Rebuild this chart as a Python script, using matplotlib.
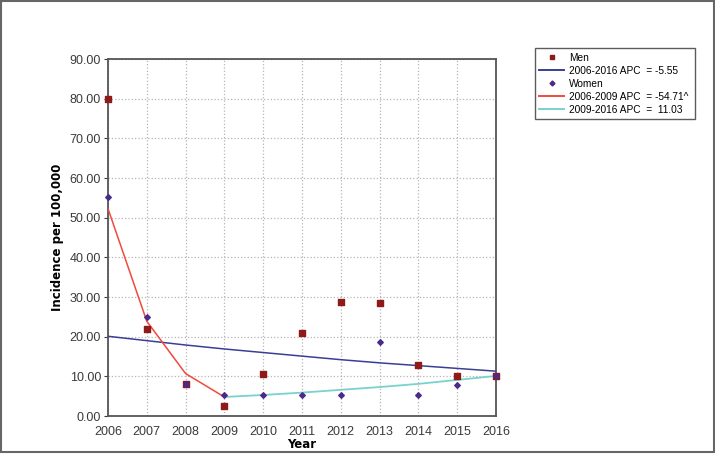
import matplotlib.pyplot as plt
from matplotlib.lines import Line2D
from matplotlib.patches import Rectangle

years = [2006, 2007, 2008, 2009, 2010, 2011, 2012, 2013, 2014, 2015, 2016]
men = [80.0, 21.9, 8.0, 2.5, 10.5, 21.0, 28.7, 28.5, 12.8, 10.2, 10.2]
women = [55.3, 24.9, 8.0, 5.3, 5.3, 5.3, 5.3, 18.6, 5.2, 7.8, 10.2]

# fitted trend lines
trend_all = [20.1, 19.0, 17.9, 16.9, 16.0, 15.1, 14.2, 13.4, 12.7, 12.0, 11.3]
seg1_years = [2006, 2007, 2008, 2009]
seg1 = [52.3, 23.9, 10.7, 4.8]
seg2_years = [2009, 2010, 2011, 2012, 2013, 2014, 2015, 2016]
seg2 = [4.8, 5.3, 5.9, 6.6, 7.3, 8.1, 9.1, 10.1]

y_ticks = [0, 10, 20, 30, 40, 50, 60, 70, 80, 90]

plt.rcParams['font.family'] = ['Liberation Sans', 'DejaVu Sans']

fig = plt.figure(figsize=(7.15, 4.54), dpi=100)
ax = fig.add_axes([0.151, 0.0837, 0.5427, 0.7863])

ax.plot(years, trend_all, color='#3a3f96', lw=1.1, zorder=3)
ax.plot(seg1_years, seg1, color='#f04a3c', lw=1.1, zorder=3)
ax.plot(seg2_years, seg2, color='#79d2cc', lw=1.3, zorder=3)
ax.scatter(years, men, marker='s', s=20, color='#8e1a1a', zorder=4, clip_on=False)
ax.scatter(years, women, marker='D', s=8, color='#4a2a8c', zorder=5, clip_on=False)

ax.set_xlim(2006, 2016)
ax.set_ylim(0, 90)
ax.set_xticks(years)
ax.set_yticks(y_ticks)
ax.set_yticklabels([f"{v:.2f}" for v in y_ticks])
ax.tick_params(labelsize=9, colors='#3a3a3a', length=3, width=0.8, pad=2)
ax.tick_params(axis='x', length=0, pad=7)
ax.grid(True, color='#b5b5b5', linestyle=':', linewidth=0.9)
for s in ax.spines.values():
    s.set_color('#555555')
    s.set_linewidth(1.3)

ax.set_ylabel('Incidence per 100,000', fontsize=8.5, fontweight='bold',
              family='DejaVu Sans', labelpad=4)
ax.set_xlabel('Year', fontsize=8.5, fontweight='bold', family='DejaVu Sans', labelpad=0)

handles = [
    Line2D([], [], ls='none', marker='s', ms=3.5, color='#8e1a1a'),
    Line2D([], [], color='#3a3f96', lw=1.4),
    Line2D([], [], ls='none', marker='D', ms=2.5, color='#4a2a8c'),
    Line2D([], [], color='#f04a3c', lw=1.4),
    Line2D([], [], color='#79d2cc', lw=1.4),
]
labels = ['Men', '2006-2016 APC  = -5.55', 'Women',
          '2006-2009 APC  = -54.71^', '2009-2016 APC  =  11.03']
leg = fig.legend(handles, labels, loc='upper left',
                 bbox_to_anchor=(0.748, 0.740, 0.224, 0.154), mode='expand',
                 fontsize=7.3, frameon=True, fancybox=False, handlelength=2.4,
                 labelspacing=0.3, borderpad=0.45, handletextpad=0.5,
                 borderaxespad=0)
leg.get_frame().set_edgecolor('#333333')
leg.get_frame().set_linewidth(1.0)

# outer frame around the whole image
fig.patches.append(Rectangle((0.001, 0.004), 0.997, 0.994, transform=fig.transFigure,
                             fill=False, edgecolor='#666666', lw=1.5))

fig.savefig('out.png', dpi=100)
